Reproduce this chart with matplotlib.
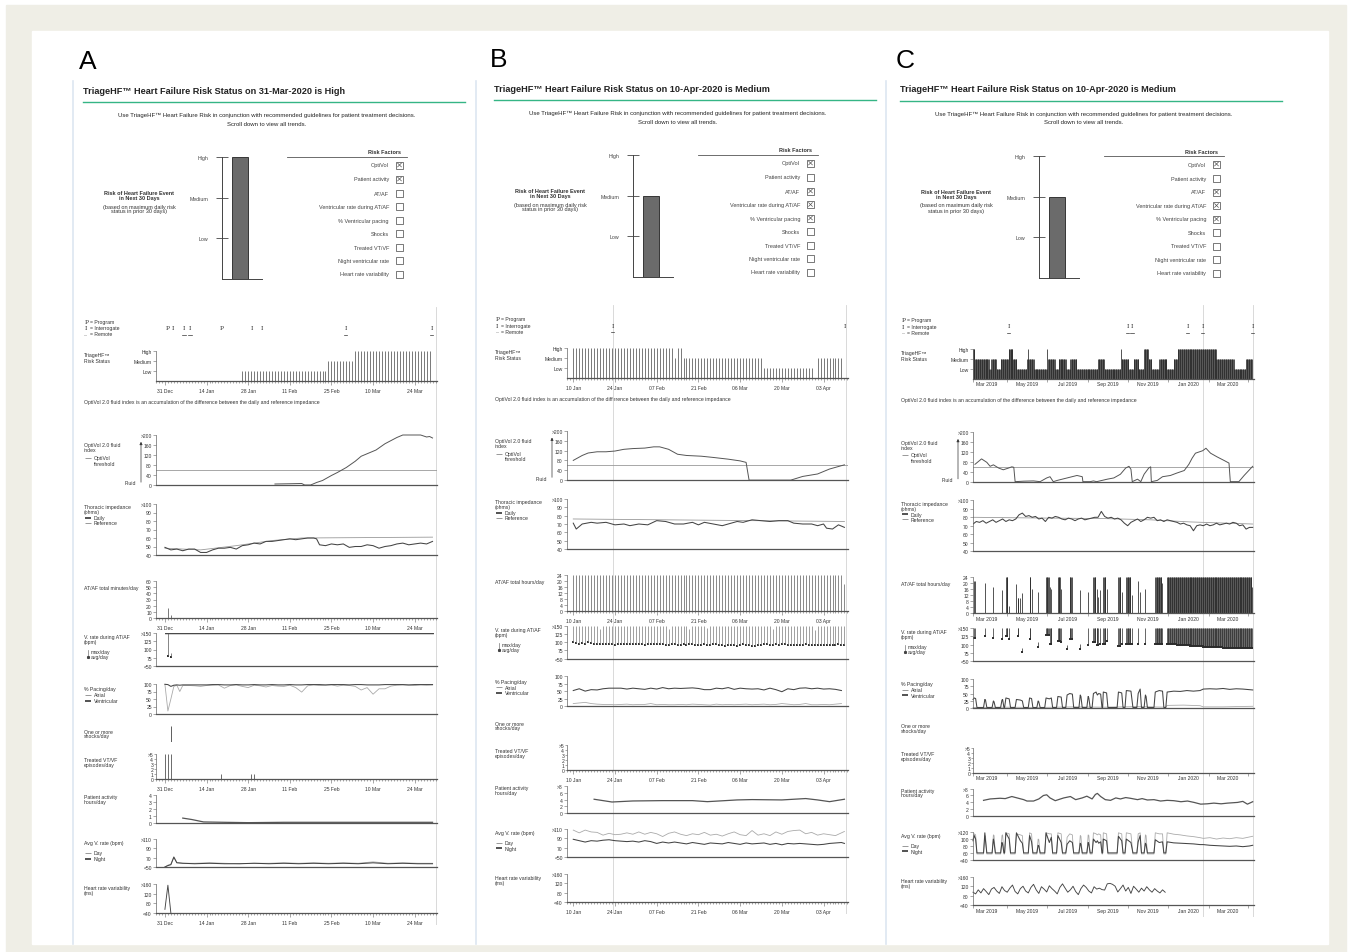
import numpy as np
import matplotlib
matplotlib.use('Agg')
import matplotlib.pyplot as plt
from matplotlib.patches import Rectangle

plt.rcParams['font.family'] = ['Liberation Sans', 'DejaVu Sans']

W, H = 1352, 953
FS = 3.6
GREEN = '#35b585'
AXC = '#666666'
DARK = '#444444'
LIGHT = '#b4b4b4'

# ---------------- header data ----------------
levels = ['Low', 'Medium', 'High']
factor_names = ['OptiVol', 'Patient activity', 'AT/AF', 'Ventricular rate during AT/AF',
                '% Ventricular pacing', 'Shocks', 'Treated VT/VF', 'Night ventricular rate',
                'Heart rate variability']
A_date, A_status = '31-Mar-2020', 'High'
A_checked = [1, 1, 0, 0, 0, 0, 0, 0, 0]
B_date, B_status = '10-Apr-2020', 'Medium'
B_checked = [1, 0, 1, 1, 1, 0, 0, 0, 0]
C_date, C_status = '10-Apr-2020', 'Medium'
C_checked = [1, 0, 1, 1, 1, 0, 0, 0, 0]

# ---------------- panel A (day 0 = 31 Dec 2019) ----------------
A_start = '2019-12-31'
A_xlim = (-3, 91.5)
A_lab_dates = ['2019-12-31', '2020-01-14', '2020-01-28', '2020-02-11', '2020-02-25', '2020-03-10', '2020-03-24']
A_lab_text = ['31 Dec', '14 Jan', '28 Jan', '11 Feb', '25 Feb', '10 Mar', '24 Mar']
A_now = [91]
A_ev_days = [1, 2.6, 6.5, 8.5, 19, 29.3, 32.7, 60.7, 89.7]
A_ev_text = ['P', 'I', 'I', 'I', 'P', 'I', 'I', 'I', 'I']
A_ev_remote = [0, 0, 1, 1, 0, 0, 0, 1, 1]
A_status_runs = [(26, 55, 1), (55, 64, 2), (64, 90, 3)]
A_opt_days = [37, 42, 46, 47, 49, 51, 53, 56, 58, 61, 64, 66, 71, 74, 78, 80, 86, 88, 89, 90]
A_opt_vals = [4, 5, 6, 0, 0, 10, 18, 38, 50, 70, 95, 115, 140, 165, 190, 200, 200, 192, 194, 188]
A_thr = 60
A_imp_days = [0, 2, 4, 6, 8, 10, 12, 14, 16, 18, 20, 22, 24, 26, 28, 30, 32, 34, 36, 38, 40, 42, 44, 46,
              48, 50, 51, 52, 54, 56, 58, 60, 62, 64, 66, 68, 70, 72, 74, 76, 78, 80, 82, 84, 86, 88, 90]
A_imp_vals = [49, 46, 47, 45, 47, 47, 43, 43, 46, 48, 48, 49, 47, 51, 52, 54, 53, 56, 56, 57, 58, 59, 58, 59,
              60, 60, 59, 52, 51, 53, 52, 53, 49, 50, 50, 52, 51, 48, 50, 51, 53, 54, 52, 53, 54, 53, 56]
A_ref_days = [0, 12, 24, 36, 46, 90]
A_ref_vals = [48, 46, 51, 57, 60, 61]
A_af_runs = [(1, 2, 16), (2, 3, 5)]
A_vr_runs = [(1, 2, 150, 80), (2, 3, 90, 78)]
A_vr_cap_days = [0, 90]
A_vr_cap = [150, 146]
A_pace_days = [0, 1, 2, 3, 4, 5, 6, 8, 10, 12, 14, 16, 18, 20, 22, 24, 26, 28, 30, 32, 34, 36, 38, 40, 42,
               44, 46, 48, 50, 52, 54, 56, 58, 60, 62, 64, 66, 68, 70, 72, 74, 76, 78, 80, 82, 84, 86, 88, 90]
A_pace_atr = [99, 10, 50, 92, 96, 75, 95, 95, 94, 92, 95, 96, 97, 86, 95, 97, 92, 88, 96, 94, 90, 95, 93, 92, 96,
              88, 73, 94, 97, 95, 96, 97, 93, 96, 95, 92, 80, 88, 66, 84, 84, 93, 96, 97, 96, 95, 97, 96, 97]
A_pace_ven = [99, 98, 92, 96, 97, 96, 97, 97, 97, 97, 97, 98, 98, 97, 97, 98, 97, 97, 98, 97, 97, 98, 97, 97, 98,
              97, 97, 98, 98, 98, 97, 98, 98, 98, 97, 98, 98, 97, 97, 97, 98, 98, 98, 98, 97, 98, 98, 98, 98]
A_shock_days = [2]
A_vt_days = [0, 1, 2, 19, 29, 30]
A_vt_vals = [5, 5, 5, 1, 1, 1]
A_act_days = [6, 9, 13, 20, 28, 40, 55, 70, 90]
A_act_vals = [0.7, 0.5, 0.15, 0.1, 0.05, 0.1, 0.1, 0.1, 0.1]
A_avr_days = [0, 1, 2, 3, 4, 6, 10, 15, 20, 25, 30, 35, 40, 45, 50, 55, 60, 65, 70, 75, 80, 85, 90]
A_avr_day = [50, 54, 56, 72, 60, 58, 58, 59, 58, 57, 58, 58, 59, 58, 59, 58, 59, 58, 61, 58, 59, 58, 58]
A_avr_night = [50, 53, 55, 71, 59, 58, 57, 58, 57, 57, 58, 57, 58, 57, 58, 57, 58, 57, 59, 57, 58, 57, 57]
A_hrv_days = [0, 1, 2]
A_hrv_vals = [55, 155, 40]

# ---------------- panel B (day 0 = 10 Jan 2020) ----------------
B_start = '2020-01-10'
B_xlim = (-2.1, 92.2)
B_lab_dates = ['2020-01-10', '2020-01-24', '2020-02-07', '2020-02-21', '2020-03-06', '2020-03-20', '2020-04-03']
B_lab_text = ['10 Jan', '24 Jan', '07 Feb', '21 Feb', '06 Mar', '20 Mar', '03 Apr']
B_now = [13.5, 91.5]
B_ev_days = [13.2, 91.2]
B_ev_text = ['I', 'I']
B_ev_remote = [1, 0]
B_status_runs = [(0, 34, 3), (34, 35, 2), (35, 37, 3), (37, 64, 2), (64, 81, 1), (82, 91, 2)]
B_opt_days = [0, 3, 5, 8, 11, 14, 17, 20, 24, 27, 29, 32, 35, 38, 43, 47, 52, 56, 58, 59, 73, 77, 82, 86, 91]
B_opt_vals = [80, 100, 110, 115, 115, 118, 125, 128, 130, 135, 135, 125, 105, 100, 97, 92, 85, 78, 72, 0,
              0, 15, 25, 45, 62]
B_thr = 60
B_imp_days = [0, 1, 3, 6, 8, 11, 14, 17, 19, 22, 25, 28, 31, 34, 37, 40, 42, 44, 47, 50, 53, 55, 57, 60,
              63, 66, 69, 72, 74, 77, 80, 82, 84, 85, 87, 89, 91]
B_imp_vals = [71, 64, 70, 72, 71, 72, 69, 70, 68, 70, 69, 74, 73, 70, 70, 72, 69, 72, 70, 68, 71, 73, 72, 75,
              74, 73, 74, 74, 71, 70, 70, 68, 70, 65, 64, 69, 66]
B_ref_days = [0, 91]
B_ref_vals = [76, 73]
B_af_runs = [(0, 91, 24), (91, 92, 18)]
B_vr_days = np.arange(92)  # one reading per day
B_vr_max = [150, 150, 150, 150, 150, 150, 150, 150, 150, 140,
            150, 150, 150, 150, 150, 150, 150, 150, 150, 150,
            150, 150, 150, 150, 150, 150, 150, 150, 150, 150,
            150, 150, 142, 150, 150, 150, 150, 150, 150, 140,
            150, 150, 150, 150, 150, 145, 150, 150, 150, 150,
            150, 150, 150, 150, 150, 150, 150, 150, 150, 150,
            150, 150, 150, 150, 150, 150, 150, 140, 150, 150,
            150, 150, 150, 150, 150, 150, 150, 150, 150, 150,
            150, 138, 150, 150, 150, 150, 150, 150, 150, 150,
            150, 150]
B_vr_avg = [100, 97, 95, 98, 96, 100, 97, 95, 96, 95,
            96, 95, 94, 95, 93, 94, 95, 94, 95, 95,
            96, 95, 94, 95, 93, 94, 96, 95, 94, 95,
            94, 92, 93, 95, 94, 93, 92, 94, 93, 95,
            94, 93, 91, 92, 94, 93, 92, 95, 94, 92,
            91, 90, 92, 93, 91, 90, 92, 94, 93, 91,
            90, 89, 92, 93, 95, 94, 93, 92, 94, 93,
            95, 94, 92, 91, 93, 92, 91, 93, 94, 92,
            91, 93, 92, 91, 92, 93, 92, 91, 93, 94,
            93, 92]
B_pace_days = [0, 2, 4, 6, 8, 10, 12, 14, 16, 18, 20, 22, 24, 26, 28, 30, 32, 34, 36, 38, 40, 42, 44,
               46, 48, 50, 52, 54, 56, 58, 60, 62, 64, 66, 68, 70, 72, 74, 76, 78, 80, 82, 84, 86, 88, 90]
B_pace_ven = [52, 58, 50, 55, 54, 58, 60, 60, 60, 57, 60, 58, 56, 60, 57, 62, 58, 60, 59, 60, 61, 59, 55,
              55, 60, 58, 62, 56, 60, 58, 57, 58, 54, 60, 55, 48, 58, 55, 60, 61, 58, 60, 57, 58, 56, 52]
B_pace_atr = [8, 10, 12, 8, 6, 5, 5, 4, 5, 6, 4, 5, 5, 8, 4, 5, 4, 4, 5, 4, 6, 5, 4,
              3, 6, 4, 5, 4, 5, 6, 4, 5, 6, 4, 5, 8, 6, 4, 5, 8, 4, 4, 5, 4, 6, 8]
B_shock_days = []
B_vt_days = []
B_vt_vals = []
B_act_days = [7, 10, 13, 20, 30, 40, 45, 55, 60, 70, 78, 82, 86, 91]
B_act_vals = [4.1, 3.7, 3.3, 3.6, 3.7, 3.7, 3.4, 3.9, 4.0, 3.9, 4.3, 3.9, 3.4, 4.1]
B_avr_days = [0, 2, 4, 6, 8, 10, 12, 14, 16, 18, 20, 22, 24, 26, 28, 30, 32, 34, 36, 38, 40, 42, 44, 46,
              48, 50, 52, 54, 56, 58, 60, 62, 64, 66, 68, 70, 72, 74, 76, 78, 80, 82, 84, 86, 88, 90, 91]
B_avr_day = [108, 102, 108, 104, 103, 97, 101, 98, 99, 102, 99, 104, 99, 103, 100, 94, 101, 104, 99, 96,
             100, 98, 103, 97, 99, 95, 100, 104, 98, 96, 107, 97, 100, 96, 104, 99, 105, 107, 108, 100,
             103, 97, 100, 98, 96, 102, 105]
B_avr_night = [88, 85, 82, 85, 84, 86, 87, 85, 84, 83, 84, 82, 85, 83, 79, 82, 80, 82, 80, 78,
               81, 79, 77, 80, 79, 78, 81, 79, 77, 80, 78, 79, 80, 77, 79, 76, 79, 78, 79, 78,
               77, 76, 77, 79, 80, 81, 79]
B_hrv_days = []
B_hrv_vals = []

# ---------------- panel C (day 0 = 8 Feb 2019) ----------------
C_start = '2019-02-08'
C_xlim = (0, 427)
C_lab_dates = ['2019-03-01', '2019-05-01', '2019-07-01', '2019-09-01', '2019-11-01', '2020-01-01', '2020-03-01']
C_lab_text = ['Mar 2019', 'May 2019', 'Jul 2019', 'Sep 2019', 'Nov 2019', 'Jan 2020', 'Mar 2020']
C_mark_dates = ['2019-04-01', '2019-06-01', '2019-08-01', '2019-10-01', '2019-12-01', '2020-02-01', '2020-04-01']
C_now = [349, 425.5]
C_ev_days = [54, 235, 242, 326, 349, 425]
C_ev_text = ['I', 'I', 'I', 'I', 'I', 'I']
C_ev_remote = [1, 1, 1, 1, 1, 1]
C_status_runs = [(0, 3, 3), (3, 25, 2), (25, 28, 1), (28, 36, 2), (36, 42, 1), (42, 54, 2), (54, 61, 3),
                 (61, 67, 2), (67, 82, 1), (82, 84, 2), (84, 85, 3), (85, 93, 2), (93, 113, 1), (113, 114, 3),
                 (114, 125, 2), (125, 130, 1), (130, 142, 2), (142, 148, 1), (148, 158, 2), (158, 190, 1),
                 (190, 200, 2), (200, 225, 1), (225, 226, 3), (226, 237, 2), (237, 244, 1), (244, 252, 2),
                 (252, 260, 1), (260, 267, 3), (267, 272, 2), (272, 283, 1), (283, 295, 2), (295, 305, 1),
                 (305, 311, 2), (311, 370, 3), (370, 397, 2), (397, 415, 1), (415, 425, 2)]
C_opt_days = [3, 13, 21, 26, 31, 39, 46, 54, 59, 62, 64, 77, 92, 102, 112, 117, 122, 128, 143, 158,
              166, 167, 178, 183, 188, 204, 214, 224, 232, 237, 240, 242, 250, 255, 260, 267, 270, 271, 280, 288,
              300, 310, 321, 328, 333, 338, 349, 354, 361, 371, 382, 389, 391, 404, 412, 425]
C_opt_vals = [70, 92, 78, 62, 68, 55, 48, 55, 60, 58, 0, 2, 3, 0, 15, 20, 0, 5, 15, 25,
              20, 0, 0, 3, 0, 10, 15, 30, 55, 62, 50, 0, 10, 0, 30, 55, 60, 0, 5, 20,
              25, 35, 45, 70, 95, 115, 125, 135, 115, 100, 85, 75, 0, 0, 25, 62]
C_thr = 60
C_imp_days = [0, 5, 10, 15, 20, 25, 30, 35, 40, 45, 50, 55, 60, 65, 70, 75, 80, 85, 90, 95,
              100, 105, 110, 115, 120, 125, 130, 135, 140, 145, 150, 155, 160, 165, 170, 175, 180, 185, 190, 195,
              200, 205, 210, 215, 220, 225, 230, 235, 240, 245, 250, 255, 260, 265, 270, 275, 280, 285, 290, 295,
              300, 305, 310, 315, 320, 325, 330, 335, 340, 345, 350, 355, 360, 365, 370, 375, 380, 385, 390, 395,
              400, 405, 410, 415, 420, 425]
C_imp_vals = [72, 75, 74, 76, 73, 75, 77, 74, 76, 78, 75, 77, 76, 78, 83, 85, 81, 82, 80, 81,
              78, 79, 75, 80, 79, 81, 80, 78, 77, 79, 78, 76, 78, 79, 77, 78, 79, 80, 80, 87,
              81, 79, 80, 78, 79, 77, 73, 70, 74, 76, 78, 75, 77, 80, 79, 80, 76, 77, 75, 77,
              76, 75, 74, 72, 73, 71, 70, 64, 70, 71, 70, 72, 70, 71, 73, 71, 72, 73, 72, 74,
              73, 70, 71, 66, 68, 68]
C_ref_days = [0, 120, 200, 270, 330, 425]
C_ref_vals = [80, 79, 78.5, 77, 74.5, 72]
C_af_runs = [(2, 4, 21), (18, 19, 20), (31, 32, 17), (44, 45, 15), (50, 53, 24), (55, 56, 5), (66, 67, 19),
             (68, 70, 10), (71, 72, 10), (74, 75, 13), (86, 88, 24), (89, 90, 16), (99, 100, 14), (111, 116, 24),
             (117, 118, 17), (119, 120, 16), (129, 133, 24), (134, 135, 16), (147, 151, 24), (163, 164, 15),
             (175, 176, 14), (183, 187, 24), (188, 189, 16), (190, 191, 11), (193, 194, 15), (198, 202, 24),
             (203, 204, 16), (221, 225, 24), (226, 227, 14), (233, 240, 24), (241, 242, 12), (251, 252, 21),
             (254, 255, 14), (262, 263, 16), (277, 287, 24), (287, 288, 20), (295, 424, 24), (424, 425, 17)]
C_vr_runs = [(2, 4, 150, 120), (18, 19, 150, 125), (31, 32, 150, 120), (44, 45, 150, 116), (50, 53, 150, 125),
             (55, 56, 150, 116), (68, 70, 150, 126), (74, 75, 90, 78), (86, 88, 150, 116), (99, 100, 108, 91),
             (111, 116, 150, 129), (117, 120, 150, 103), (129, 133, 150, 112), (134, 135, 150, 108),
             (143, 144, 99, 86), (147, 151, 150, 116), (163, 164, 102, 86), (175, 176, 150, 99),
             (183, 187, 150, 108), (188, 191, 150, 99), (193, 194, 150, 103), (198, 202, 150, 103),
             (203, 204, 150, 112), (221, 225, 150, 95), (226, 227, 150, 103), (233, 240, 150, 101),
             (241, 242, 150, 103), (251, 252, 150, 103), (262, 263, 150, 103), (277, 288, 150, 101),
             (295, 310, 150, 102), (310, 330, 150, 98), (330, 350, 150, 95), (350, 380, 150, 91),
             (380, 425, 150, 90)]
C_hump_days = [0, 2, 4, 6, 16, 18, 19, 21, 29, 31, 32, 34, 42, 44, 45, 47, 48, 50, 55, 57,
               64, 66, 72, 75, 77, 84, 86, 89, 91, 97, 99, 100, 102, 109, 111, 116, 119, 121, 127, 129,
               134, 136, 141, 143, 147, 151, 153, 161, 163, 164, 166, 173, 175, 176, 178, 181, 183, 187, 189, 191,
               194, 196, 197, 198, 203, 205, 219, 221, 226, 228, 231, 233, 240, 243, 249, 251, 254, 256, 260, 262,
               263, 265, 275, 277, 283, 288, 290, 293, 295, 305, 315, 325, 335, 345, 350, 360, 370, 380, 390, 400,
               410, 420, 425]
C_pace_ven = [30, 35, 33, 3, 3, 30, 28, 3, 3, 25, 22, 3, 3, 28, 30, 3, 3, 35, 32, 3,
              3, 30, 28, 25, 3, 3, 35, 33, 3, 3, 25, 22, 3, 3, 35, 32, 35, 3, 3, 40,
              38, 3, 3, 45, 50, 48, 3, 3, 45, 40, 3, 3, 40, 35, 3, 3, 50, 55, 45, 50,
              48, 3, 3, 55, 52, 3, 3, 55, 52, 3, 3, 60, 58, 3, 3, 50, 65, 3, 3, 45,
              40, 3, 3, 55, 60, 58, 3, 3, 55, 58, 57, 60, 58, 60, 65, 66, 65, 67, 64, 66,
              65, 63, 62]
C_pace_atr_days = [0, 50, 100, 150, 200, 250, 293, 295, 320, 345, 350, 380, 400, 425]
C_pace_atr = [3, 4, 3, 5, 4, 6, 4, 10, 11, 9, 5, 5, 6, 7]
C_avr_day = [100, 115, 112, 57, 57, 110, 108, 57, 57, 112, 110, 57, 57, 110, 112, 57, 57, 118, 115, 57,
             57, 115, 112, 110, 57, 57, 118, 115, 57, 57, 100, 98, 57, 57, 118, 115, 115, 57, 57, 118,
             115, 57, 57, 105, 115, 112, 57, 57, 110, 108, 57, 57, 112, 110, 57, 57, 118, 115, 112, 115,
             112, 57, 57, 118, 115, 57, 57, 118, 115, 57, 57, 118, 115, 57, 57, 115, 118, 57, 57, 112,
             110, 57, 57, 118, 115, 115, 57, 57, 118, 114, 112, 109, 107, 104, 102, 104, 100, 103, 101, 104,
             102, 106, 108]
C_avr_night = [95, 110, 100, 60, 60, 118, 95, 60, 60, 100, 90, 60, 60, 90, 85, 60, 60, 118, 100, 60,
               60, 118, 95, 88, 60, 60, 110, 92, 60, 60, 82, 80, 60, 60, 118, 90, 105, 60, 60, 110,
               90, 60, 60, 85, 95, 90, 60, 60, 88, 85, 60, 60, 90, 85, 60, 60, 100, 90, 95, 88,
               92, 60, 60, 100, 95, 60, 60, 108, 95, 60, 60, 100, 90, 60, 60, 92, 110, 60, 60, 88,
               85, 60, 60, 98, 90, 92, 60, 60, 92, 89, 88, 87, 86, 84, 84, 82, 81, 80, 79, 80,
               78, 80, 82]
C_shock_days = []
C_vt_days = []
C_vt_vals = []
C_act_days = [16, 26, 41, 49, 59, 69, 77, 82, 92, 100, 107, 112, 117, 125, 133, 138, 148, 156, 166, 173,
              181, 186, 189, 194, 201, 209, 217, 224, 232, 239, 250, 257, 265, 275, 285, 295, 305, 316, 326, 336,
              346, 356, 366, 377, 387, 402, 410, 417, 425]
C_act_vals = [4.6, 5.0, 5.2, 5.1, 5.7, 5.2, 4.8, 4.4, 4.4, 5.0, 6.0, 6.2, 5.3, 4.5, 5.0, 5.3, 5.7, 4.8, 5.3, 5.8,
              5.0, 6.3, 6.6, 5.7, 4.8, 4.6, 5.3, 5.0, 5.4, 5.2, 4.8, 5.1, 4.7, 4.8, 4.4, 4.6, 4.5, 4.2, 4.4, 4.0,
              3.5, 3.6, 3.8, 3.6, 3.8, 4.0, 4.3, 3.5, 4.2]
C_hrv_days = [0, 4, 8, 12, 16, 20, 24, 28, 32, 36, 40, 44, 48, 52, 56, 60, 64, 68, 72, 76,
              80, 84, 88, 92, 96, 100, 104, 108, 112, 116, 120, 124, 128, 132, 136, 140, 144, 148, 152, 156,
              160, 164, 168, 172, 176, 180, 184, 188, 192, 196, 200, 204, 208, 212, 216, 220, 224, 228, 232, 236,
              240, 244, 248, 252, 256, 260, 264, 268, 272, 276, 280, 284, 288, 292]
C_hrv_vals = [95, 88, 105, 92, 110, 98, 85, 108, 115, 100, 90, 118, 102, 95, 112, 125, 98, 88, 110, 120,
              100, 92, 115, 128, 105, 90, 118, 108, 96, 122, 110, 100, 88, 115, 130, 112, 95, 105, 120, 98,
              85, 110, 125, 115, 100, 92, 118, 108, 112, 106, 104, 130, 132, 128, 120, 96, 110, 125, 100, 115,
              90, 120, 108, 95, 112, 100, 118, 105, 95, 110, 100, 92, 105, 95]


def day_offsets(dates, start):
    return (np.array(dates, dtype='datetime64[D]') - np.datetime64(start)).astype(int)


def expand(runs):
    days, cols = [], []
    for r in runs:
        for d in range(r[0], r[1]):
            days.append(d)
            cols.append(r[2:])
    return np.array(days), np.array(cols).reshape(len(days), -1)


def pan(letter, dx, sep, hdy, dy, sy, date, status, checked, start, xlim, lab_dates, lab_text, mark_dates, now,
        ev, runs, bar_color, opt, thr, imp, af_label, af_ylim, af_ticks, af_runs, af_color, vr, vr_color, vr_cap,
        pace, shocks, vt, act, act_ticks, act_labels, avr, avr_ylim, avr_ticks, avr_labels, hrv):
    P = dict(letter=letter, dx=dx, sep=sep, hdy=hdy, dy=dy, sy=sy, date=date, status=status, checked=checked,
             xlim=xlim, now=now, ev=ev, runs=runs, bar_color=bar_color, opt=opt, thr=thr, imp=imp,
             af_label=af_label, af_ylim=af_ylim, af_ticks=af_ticks, af_runs=af_runs, af_color=af_color,
             vr=vr, vr_color=vr_color, vr_cap=vr_cap, pace=pace, shocks=shocks, vt=vt, act=act,
             act_ticks=act_ticks, act_labels=act_labels, avr=avr, avr_ylim=avr_ylim, avr_ticks=avr_ticks,
             avr_labels=avr_labels, hrv=hrv)
    P['lab_days'] = day_offsets(lab_dates, start)
    P['lab_text'] = lab_text
    if mark_dates is None:
        P['mark_days'] = np.arange(int(np.ceil(xlim[0])), int(xlim[1]) + 1)
        P['lab_len'], P['mark_len'] = 3, 1.5
    else:
        P['mark_days'] = np.concatenate([[xlim[0]], day_offsets(mark_dates, start)])
        P['lab_len'], P['mark_len'] = 0, 2.5
    return P


A_vr_d, A_vr_c = expand(A_vr_runs)
C_vr_d, C_vr_c = expand(C_vr_runs)

panels = [
    pan('A', 0, 73, 0, 0, 1.0, A_date, A_status, A_checked, A_start, A_xlim, A_lab_dates, A_lab_text, None,
        A_now, (A_ev_days, A_ev_text, A_ev_remote), A_status_runs, '#555555', (A_opt_days, A_opt_vals), A_thr,
        (A_imp_days, A_imp_vals, A_ref_days, A_ref_vals), 'AT/AF total minutes/day', (0, 60),
        [0, 10, 20, 30, 40, 50, 60], A_af_runs, '#555555', (A_vr_d, A_vr_c[:, 0], A_vr_c[:, 1]), '#555555',
        (A_vr_cap_days, A_vr_cap), (A_pace_days, A_pace_atr, A_pace_days, A_pace_ven), A_shock_days,
        (A_vt_days, A_vt_vals), (A_act_days, A_act_vals), [0, 1, 2, 3, 4], ['0', '1', '2', '3', '4'],
        (A_avr_days, A_avr_day, A_avr_night), (50, 110), [50, 70, 90, 110], ['<50', '70', '90', '>110'],
        (A_hrv_days, A_hrv_vals)),
    pan('B', 411, 476, -2, -3, 0.986, B_date, B_status, B_checked, B_start, B_xlim, B_lab_dates, B_lab_text,
        None, B_now, (B_ev_days, B_ev_text, B_ev_remote), B_status_runs, '#555555', (B_opt_days, B_opt_vals),
        B_thr, (B_imp_days, B_imp_vals, B_ref_days, B_ref_vals), 'AT/AF total hours/day', (0, 24),
        [0, 4, 8, 12, 16, 20, 24], B_af_runs, '#6a6a6a', (B_vr_days, B_vr_max, B_vr_avg), '#7a7a7a', None,
        (B_pace_days, B_pace_atr, B_pace_days, B_pace_ven), B_shock_days, (B_vt_days, B_vt_vals),
        (B_act_days, B_act_vals), [0, 2, 4, 6, 8], ['0', '2', '4', '6', '>8'],
        (B_avr_days, B_avr_day, B_avr_night), (50, 110), [50, 70, 90, 110], ['<50', '70', '90', '>110'],
        (B_hrv_days, B_hrv_vals)),
    pan('C', 817, 886, -1, -2, 0.99, C_date, C_status, C_checked, C_start, C_xlim, C_lab_dates, C_lab_text,
        C_mark_dates, C_now, (C_ev_days, C_ev_text, C_ev_remote), C_status_runs, '#262626',
        (C_opt_days, C_opt_vals), C_thr, (C_imp_days, C_imp_vals, C_ref_days, C_ref_vals),
        'AT/AF total hours/day', (0, 24), [0, 4, 8, 12, 16, 20, 24], C_af_runs, '#262626',
        (C_vr_d, C_vr_c[:, 0], C_vr_c[:, 1]), '#2a2a2a', None,
        (C_pace_atr_days, C_pace_atr, C_hump_days, C_pace_ven),
        C_shock_days, (C_vt_days, C_vt_vals), (C_act_days, C_act_vals), [0, 2, 4, 6, 8],
        ['0', '2', '4', '6', '>8'], (C_hump_days, C_avr_day, C_avr_night), (40, 120), [40, 60, 80, 100, 120],
        ['<40', '60', '80', '100', '>120'], (C_hrv_days, C_hrv_vals)),
]

fig = plt.figure(figsize=(W / 100, H / 100), dpi=100)
cv = fig.add_axes([0, 0, 1, 1])
cv.set_xlim(0, W)
cv.set_ylim(H, 0)
cv.axis('off')
cv.add_patch(Rectangle((6, 6), W - 12, H - 6, color='#efeee6', zorder=0))
cv.add_patch(Rectangle((32, 32), 1296, 913, color='white', zorder=0))


def fr(x0, y0, x1, y1):
    return [x0 / W, 1 - y1 / H, (x1 - x0) / W, (y1 - y0) / H]


def ty(P, y):
    return 352 + P['dy'] + P['sy'] * (y - 352)


def header(P):
    dx, hd = P['dx'], P['hdy']
    cv.plot([P['sep']] * 2, [82, 945], color='#dde6f1', lw=1.2)
    cv.text(88 + dx, 62 + hd, P['letter'], fontsize=19, ha='center', va='center')
    cv.text(83 + dx, 91 + hd, f"TriageHF\u2122 Heart Failure Risk Status on {P['date']} is {P['status']}",
            fontsize=6.6, fontweight='bold', va='center', color='#222')
    cv.plot([83 + dx, 465 + dx], [103 + hd] * 2, color=GREEN, lw=1.0)
    cv.text(267 + dx, 115 + hd, 'Use TriageHF\u2122 Heart Failure Risk in conjunction with recommended '
            'guidelines for patient treatment decisions.', ha='center', va='center', fontsize=4.3, color='#222')
    cv.text(267 + dx, 124 + hd, 'Scroll down to view all trends.', ha='center', va='center',
            fontsize=4.3, color='#222')
    cv.text(139 + dx, 196 + hd, 'Risk of Heart Failure Event\nin Next 30 Days', ha='center', va='center',
            fontsize=4.0, fontweight='bold', linespacing=1.0, color='#333')
    cv.text(139 + dx, 209.5 + hd, '(based on maximum daily risk\nstatus in prior 30 days)', ha='center',
            va='center', fontsize=4.0, linespacing=1.0, color='#333')
    bx = fig.add_axes(fr(222 + dx, 158 + hd, 262 + dx, 280 + hd))
    bx.bar([18], [levels.index(P['status']) + 1], width=16, color='#6b6b6b', edgecolor='#222',
           linewidth=0.6, clip_on=False)
    bx.set_xlim(0, 40)
    bx.set_ylim(0, 3)
    bx.set_yticks([1, 2, 3])
    bx.set_yticklabels(levels)
    bx.set_xticks([])
    bx.patch.set_visible(False)
    for s in ('top', 'right'):
        bx.spines[s].set_visible(False)
    for s in ('left', 'bottom'):
        bx.spines[s].set_color('#444')
        bx.spines[s].set_linewidth(0.7)
    bx.tick_params(axis='y', direction='inout', length=8, width=0.6, pad=6, labelsize=3.8,
                   color='#444', labelcolor='#444')
    rows = [166, 180, 194, 207.5, 221, 234.5, 248, 261.5, 275]
    cv.text(401 + dx, 153 + hd, 'Risk Factors', ha='right', va='center', fontsize=4.0, fontweight='bold',
            color='#333')
    cv.plot([287 + dx, 407 + dx], [158 + hd] * 2, color='#555', lw=0.6)
    for name, y, c in zip(factor_names, rows, P['checked']):
        y = y + hd
        cv.text(389 + dx, y, name, ha='right', va='center', fontsize=4.0, color='#444')
        cv.add_patch(Rectangle((396 + dx, y - 3.5), 7, 7, fill=False, ec='#444', lw=0.5))
        if c:
            cv.plot([397.6 + dx, 401.4 + dx], [y - 1.9, y + 1.9], color='#444', lw=0.45)
            cv.plot([397.6 + dx, 401.4 + dx], [y + 1.9, y - 1.9], color='#444', lw=0.45)


def mk_ax(P, top, bot, ylim, yt=None, yl=None, dates=False):
    x0, x1 = 156 + P['dx'], 437 + P['dx']
    ax = fig.add_axes(fr(x0, ty(P, top), x1, ty(P, bot)))
    ax.set_xlim(*P['xlim'])
    ax.set_ylim(*ylim)
    ax.patch.set_visible(False)
    for s in ('top', 'right'):
        ax.spines[s].set_visible(False)
    ax.spines['left'].set_color(AXC)
    ax.spines['left'].set_linewidth(0.5)
    ax.spines['bottom'].set_color('#555')
    ax.spines['bottom'].set_linewidth(0.9)
    if yt is not None:
        ax.set_yticks(yt)
        ax.set_yticklabels(yl)
    ax.tick_params(axis='y', length=2, width=0.4, pad=1, labelsize=FS, color=AXC, labelcolor='#333')
    if dates:
        ax.set_xticks(P['lab_days'])
        ax.set_xticklabels(P['lab_text'])
        ax.set_xticks(P['mark_days'], minor=True)
        ax.tick_params(axis='x', which='major', length=P['lab_len'], width=0.4, pad=2, labelsize=FS,
                       color=AXC, labelcolor='#333')
        ax.tick_params(axis='x', which='minor', length=P['mark_len'], width=0.4, color=AXC)
    else:
        ax.set_xticks([])
    return ax


def trends(P):
    dx = P['dx']
    x0, x1 = 156 + dx, 437 + dx
    day_px = (x1 - x0) / (P['xlim'][1] - P['xlim'][0])

    def lab(x, y, s, **kw):
        kw.setdefault('fontsize', 3.7)
        kw.setdefault('color', '#333')
        cv.text(x + dx, ty(P, y), s, va='center', **kw)

    def glyph(y, thick):
        cv.plot([85 + dx, 91 + dx], [ty(P, y)] * 2, color=DARK if thick else '#888',
                lw=1.3 if thick else 0.6, solid_capstyle='butt')

    # vertical "interrogation" lines
    ov = fig.add_axes(fr(x0, ty(P, 308), x1, ty(P, 926)))
    ov.set_xlim(*P['xlim'])
    ov.axis('off')
    for nd in P['now']:
        ov.axvline(nd, color='#d3d3d3', lw=0.6)

    # left labels
    for y, sym, txt in [(322.5, 'P', '= Program'), (329, 'I', '= Interrogate'), (335, '_', '= Remote')]:
        lab(84.5, y - (1.5 if sym == '_' else 0), sym, fontfamily='DejaVu Serif', fontsize=4.3)
        lab(90, y, txt)
    lab(84, 356, 'TriageHF\u2122')
    lab(84, 361.5, 'Risk Status')
    lab(84, 403, 'OptiVol 2.0 fluid index is an accumulation of the difference between the daily and '
        'reference impedance')
    lab(84, 446, 'OptiVol 2.0 fluid')
    lab(84, 451, 'index')
    glyph(459, False)
    lab(94, 459, 'OptiVol')
    lab(94, 464.5, 'threshold')
    lab(136, 484, 'Fluid', ha='right')
    cv.annotate('', xy=(141 + dx, ty(P, 440)), xytext=(141 + dx, ty(P, 486)),
                arrowprops=dict(arrowstyle='-|>', lw=0.5, color='#333', mutation_scale=4))
    lab(84, 508, 'Thoracic impedance')
    lab(84, 513, '(ohms)')
    glyph(519, True)
    lab(94, 519, 'Daily')
    glyph(524, False)
    lab(94, 524, 'Reference')
    lab(84, 589, P['af_label'])
    lab(84, 637.5, 'V. rate during AT/AF')
    lab(84, 642.5, '(bpm)')
    cv.plot([87.5 + dx] * 2, [ty(P, 651), ty(P, 658)], color='#777', lw=0.5)
    cv.plot([87.5 + dx], [ty(P, 658)], marker='s', ms=1.2, color=DARK)
    lab(91, 653, 'max/day')
    lab(91, 658, 'avg/day')
    lab(84, 690, '% Pacing/day')
    glyph(696, False)
    lab(94, 696, 'Atrial')
    glyph(701.5, True)
    lab(94, 701.5, 'Ventricular')
    lab(84, 732.5, 'One or more')
    lab(84, 737, 'shocks/day')
    lab(84, 760.5, 'Treated VT/VF')
    lab(84, 765.5, 'episodes/day')
    lab(84, 797.5, 'Patient activity')
    lab(84, 802.5, 'hours/day')
    lab(84, 843.5, 'Avg V. rate (bpm)')
    glyph(854, False)
    lab(94, 854, 'Day')
    glyph(859.5, True)
    lab(94, 859.5, 'Night')
    lab(84, 889, 'Heart rate variability')
    lab(84, 894, '(ms)')

    # event markers
    ex = fig.add_axes(fr(x0, ty(P, 322), x1, ty(P, 337)))
    ex.set_xlim(*P['xlim'])
    ex.set_ylim(0, 1)
    ex.axis('off')
    half = 1.8 / day_px
    for d, t, r in zip(*P['ev']):
        ex.text(d, 0.55, t, ha='center', va='center', fontsize=4.3, fontfamily='DejaVu Serif', color='#333')
        if r:
            ex.plot([d - half, d + half], [0.08, 0.08], color='#333', lw=0.5, clip_on=False)

    # risk status
    ax = mk_ax(P, 352, 382, (0, 3), [1, 2, 3], levels, dates=True)
    d, c = expand(P['runs'])
    ax.vlines(d, 0, c[:, 0], colors=P['bar_color'], lw=0.55)

    # OptiVol
    ax = mk_ax(P, 436, 486, (0, 200), [0, 40, 80, 120, 160, 200], ['0', '40', '80', '120', '160', '>200'])
    ax.plot(P['xlim'], [P['thr']] * 2, color='#999', lw=0.6)
    ax.plot(*P['opt'], color='#555', lw=0.7, clip_on=False)

    # thoracic impedance
    ax = mk_ax(P, 505, 556, (40, 100), [40, 50, 60, 70, 80, 90, 100],
               ['40', '50', '60', '70', '80', '90', '>100'])
    ax.plot(P['imp'][2], P['imp'][3], color='#9a9a9a', lw=0.6)
    ax.plot(P['imp'][0], P['imp'][1], color=DARK, lw=0.75)

    # AT/AF
    ax = mk_ax(P, 582, 619, P['af_ylim'], P['af_ticks'], [str(v) for v in P['af_ticks']], dates=True)
    d, c = expand(P['af_runs'])
    ax.vlines(d, 0, c[:, 0], colors=P['af_color'], lw=0.55)

    # V. rate during AT/AF
    ax = mk_ax(P, 634, 667, (50, 150), [50, 75, 100, 125, 150], ['<50', '75', '100', '125', '>150'])
    if P['vr_cap'] is not None:
        ax.plot(P['vr_cap'][0], [P['vr_cap'][1][0]] * 2, color=DARK, lw=0.7, clip_on=False)
        ax.plot(P['vr_cap'][0], [P['vr_cap'][1][1]] * 2, color='#c8c8c8', lw=0.6)
    vd, vmax, vavg = P['vr']
    ax.vlines(vd, vavg, vmax, colors=P['vr_color'], lw=0.5, clip_on=False)
    ax.scatter(vd, vavg, s=0.7, marker='s', color='#333', linewidths=0)

    # pacing
    ax = mk_ax(P, 685, 715, (0, 100), [0, 25, 50, 75, 100], ['0', '25', '50', '75', '100'])
    ax.plot(P['pace'][0], P['pace'][1], color='#aaaaaa', lw=0.6, clip_on=False)
    ax.plot(P['pace'][2], P['pace'][3], color=DARK, lw=0.75, clip_on=False)

    # shocks
    sx = fig.add_axes(fr(x0, ty(P, 727), x1, ty(P, 743)))
    sx.set_xlim(*P['xlim'])
    sx.set_ylim(0, 1)
    sx.axis('off')
    if len(P['shocks']):
        sx.vlines(P['shocks'], 0, 1, colors=DARK, lw=0.6)

    # treated VT/VF
    ax = mk_ax(P, 755, 780, (0, 5), [0, 1, 2, 3, 4, 5], ['0', '1', '2', '3', '4', '>5'], dates=True)
    ax.tick_params(axis='y', length=1.5, pad=0.5)
    if len(P['vt'][0]):
        ax.vlines(P['vt'][0], 0, P['vt'][1], colors=DARK, lw=0.55, clip_on=False)

    # patient activity
    ax = mk_ax(P, 796, 824, (0, P['act_ticks'][-1]), P['act_ticks'], P['act_labels'])
    ax.plot(*P['act'], color='#555', lw=0.9)

    # avg V. rate
    ax = mk_ax(P, 840, 868, P['avr_ylim'], P['avr_ticks'], P['avr_labels'])
    ax.plot(P['avr'][0], P['avr'][1], color='#aaaaaa', lw=0.6, clip_on=False)
    ax.plot(P['avr'][0], P['avr'][2], color=DARK, lw=0.75, clip_on=False)

    # heart rate variability
    ax = mk_ax(P, 885, 914, (40, 160), [40, 80, 120, 160], ['<40', '80', '120', '>160'], dates=True)
    if len(P['hrv'][0]):
        ax.plot(*P['hrv'], color=DARK, lw=0.65, clip_on=False)


for P in panels:
    header(P)
    trends(P)

fig.savefig('out.png', dpi=100)
